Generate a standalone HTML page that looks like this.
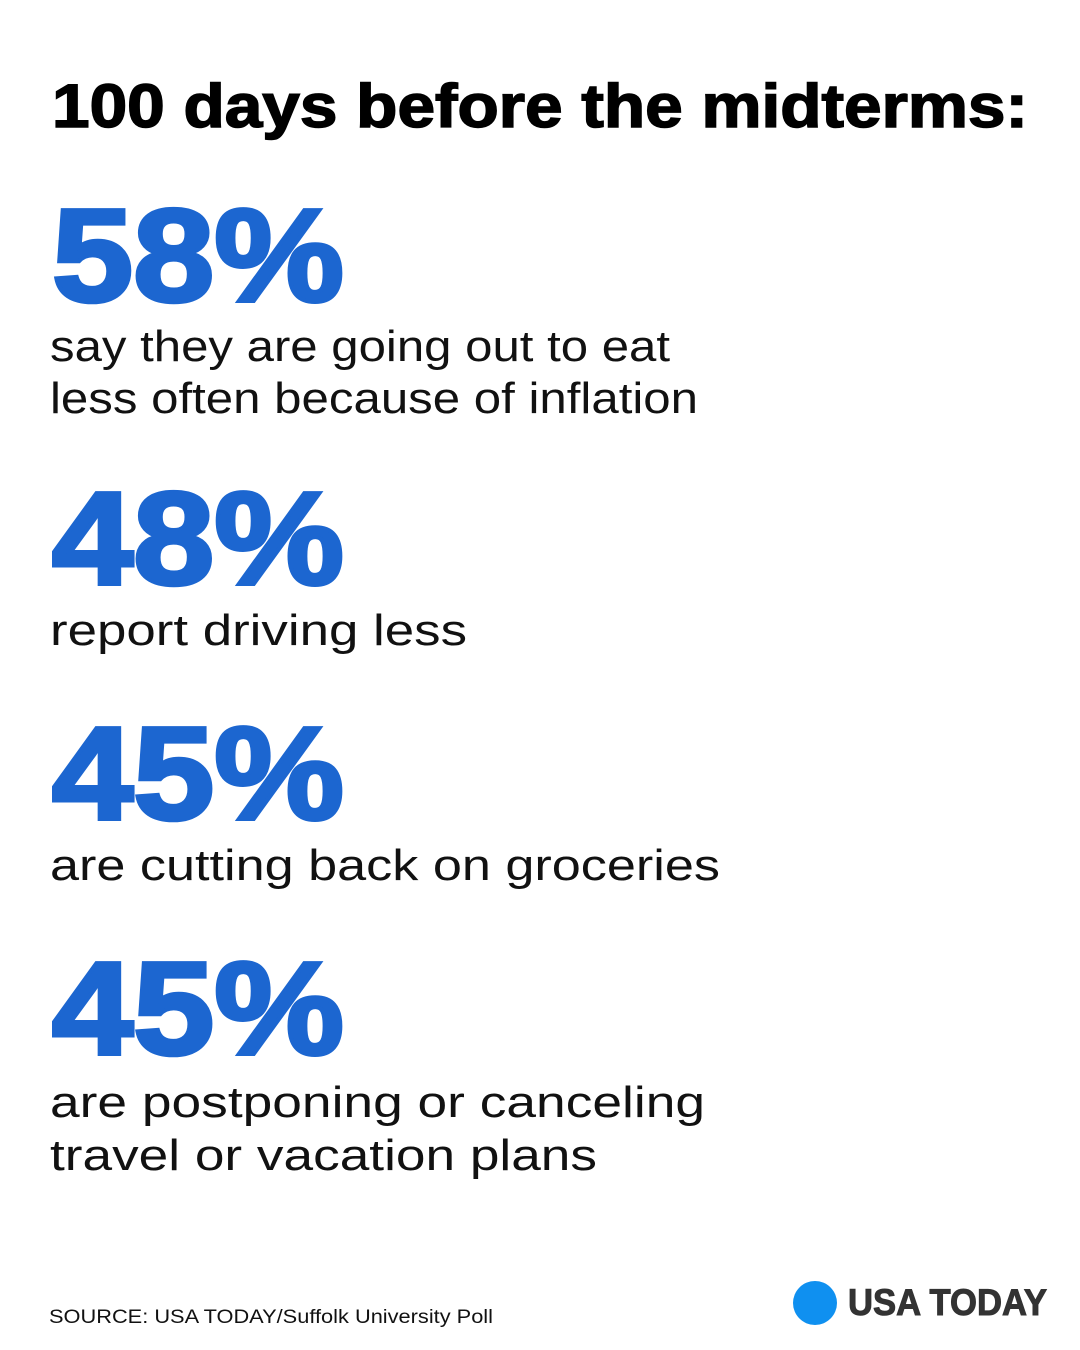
<!DOCTYPE html>
<html><head><meta charset="utf-8"><style>
html,body{margin:0;padding:0;background:#fff;}
svg{display:block;}
text{font-family:"Liberation Sans",sans-serif;}
</style></head><body>
<svg width="1080" height="1350" viewBox="0 0 1080 1350" xmlns="http://www.w3.org/2000/svg">
<rect width="1080" height="1350" fill="#fff"/>
<text x="52" y="127" font-size="61" font-weight="bold" fill="#000" stroke="#000" stroke-width="1.5" textLength="976" lengthAdjust="spacingAndGlyphs">100 days before the midterms:</text>

<g font-weight="bold" fill="#1c66d0" stroke="#1c66d0" stroke-width="4" font-size="132">
<text x="52" y="301" textLength="292" lengthAdjust="spacingAndGlyphs">58%</text>
<text x="52" y="584" textLength="292" lengthAdjust="spacingAndGlyphs">48%</text>
<text x="52" y="819" textLength="292" lengthAdjust="spacingAndGlyphs">45%</text>
<text x="52" y="1054" textLength="292" lengthAdjust="spacingAndGlyphs">45%</text>
</g>

<g fill="#111" font-size="44">
<text x="50" y="361" textLength="620" lengthAdjust="spacingAndGlyphs">say they are going out to eat</text>
<text x="50" y="413" textLength="648" lengthAdjust="spacingAndGlyphs">less often because of inflation</text>
<text x="50" y="645" textLength="417" lengthAdjust="spacingAndGlyphs">report driving less</text>
<text x="50" y="880" textLength="670" lengthAdjust="spacingAndGlyphs">are cutting back on groceries</text>
<text x="50" y="1117" textLength="655" lengthAdjust="spacingAndGlyphs">are postponing or canceling</text>
<text x="50" y="1170" textLength="547" lengthAdjust="spacingAndGlyphs">travel or vacation plans</text>
</g>

<text x="49" y="1323" font-size="19" fill="#111" textLength="444" lengthAdjust="spacingAndGlyphs">SOURCE: USA TODAY/Suffolk University Poll</text>

<circle cx="815" cy="1303" r="22" fill="#0f90f0"/>
<text x="848" y="1315" font-size="37" font-weight="bold" fill="#333" stroke="#333" stroke-width="1" textLength="199" lengthAdjust="spacingAndGlyphs">USA TODAY</text>
</svg>
</body></html>
